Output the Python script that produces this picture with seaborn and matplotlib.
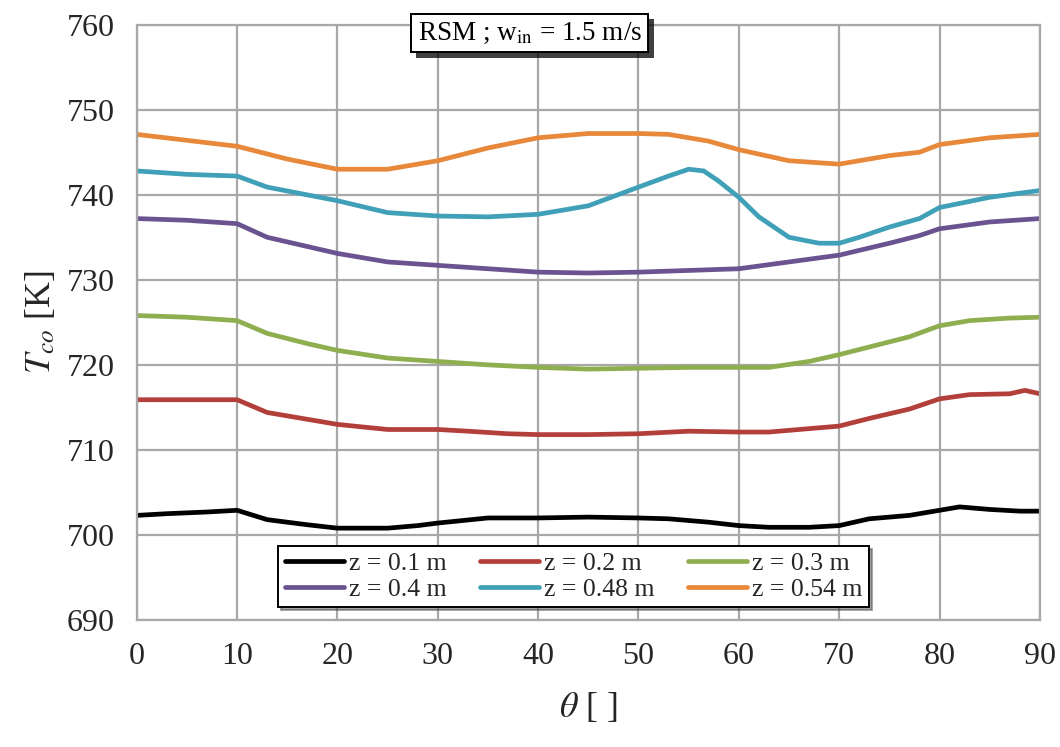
import matplotlib
matplotlib.use('Agg')
import matplotlib.pyplot as plt
import matplotlib.patheffects as pe
import pandas as pd
import seaborn as sns

# values
theta_01 = [0, 3, 7, 10, 13, 17, 20, 25, 28, 30, 35, 40, 45, 50, 53, 57, 60, 63, 67, 70, 73, 77, 80, 82, 85, 88, 90]
temp_01 = [702.3, 702.5, 702.7, 702.9, 701.8, 701.2, 700.8, 700.8, 701.1, 701.4, 702.0, 702.0, 702.1, 702.0,
           701.9, 701.5, 701.1, 700.9, 700.9, 701.1, 701.9, 702.3, 702.9, 703.3, 703.0, 702.8, 702.8]

theta_02 = [0, 5, 10, 13, 17, 20, 25, 30, 33, 37, 40, 45, 50, 55, 60, 63, 67, 70, 73, 77, 80, 83, 87, 88.5, 90]
temp_02 = [715.9, 715.9, 715.9, 714.4, 713.6, 713.0, 712.4, 712.4, 712.2, 711.9, 711.8, 711.8, 711.9, 712.2,
           712.1, 712.1, 712.5, 712.8, 713.7, 714.8, 716.0, 716.5, 716.6, 717.0, 716.6]

theta_03 = [0, 5, 10, 13, 17, 20, 25, 30, 35, 40, 45, 50, 55, 60, 63, 67, 70, 73, 77, 80, 83, 87, 90]
temp_03 = [725.8, 725.6, 725.2, 723.7, 722.5, 721.7, 720.8, 720.4, 720.0, 719.7, 719.5, 719.6, 719.7, 719.7,
           719.7, 720.4, 721.2, 722.1, 723.3, 724.6, 725.2, 725.5, 725.6]

theta_04 = [0, 5, 10, 13, 20, 25, 30, 35, 40, 45, 50, 55, 60, 65, 70, 75, 78, 80, 85, 90]
temp_04 = [737.2, 737.0, 736.6, 735.0, 733.1, 732.1, 731.7, 731.3, 730.9, 730.8, 730.9, 731.1, 731.3, 732.1,
           732.9, 734.3, 735.2, 736.0, 736.8, 737.2]

theta_048 = [0, 5, 10, 13, 20, 25, 30, 35, 40, 45, 50, 53, 55, 56.5, 58, 60, 62, 65, 68, 70, 72, 75, 78, 80, 85, 90]
temp_048 = [742.8, 742.4, 742.2, 740.9, 739.3, 737.9, 737.5, 737.4, 737.7, 738.7, 740.9, 742.2, 743.0, 742.8,
            741.6, 739.7, 737.4, 735.0, 734.3, 734.3, 735.0, 736.2, 737.2, 738.5, 739.7, 740.5]

theta_054 = [0, 10, 15, 20, 25, 30, 35, 40, 45, 50, 53, 57, 60, 65, 70, 75, 78, 80, 85, 90]
temp_054 = [747.1, 745.7, 744.2, 743.0, 743.0, 744.0, 745.5, 746.7, 747.2, 747.2, 747.1, 746.3, 745.3, 744.0,
            743.6, 744.6, 745.0, 745.9, 746.7, 747.1]

labels = ['z = 0.1 m', 'z = 0.2 m', 'z = 0.3 m', 'z = 0.4 m', 'z = 0.48 m', 'z = 0.54 m']
colors = ['#000000', '#b33f3b', '#8fae4f', '#6a5390', '#3fa0b8', '#e8883a']
x_ticks = [0, 10, 20, 30, 40, 50, 60, 70, 80, 90]
y_ticks = [690, 700, 710, 720, 730, 740, 750, 760]

series = [(theta_01, temp_01), (theta_02, temp_02), (theta_03, temp_03),
          (theta_04, temp_04), (theta_048, temp_048), (theta_054, temp_054)]
frames = []
for lab, (th, tv) in zip(labels, series):
    frames.append(pd.DataFrame({'theta': th, 'T': tv, 'z': lab}))
df = pd.concat(frames, ignore_index=True)

sns.set_style('white')
plt.rcParams['font.family'] = ['Liberation Serif', 'DejaVu Serif']
plt.rcParams['mathtext.fontset'] = 'stix'

fig = plt.figure(figsize=(10.6, 7.47), dpi=100)
ax = fig.add_axes([0.129, 0.170, 0.852, 0.797])

sns.lineplot(data=df, x='theta', y='T', hue='z', hue_order=labels, palette=colors,
             linewidth=3.4, sort=True, estimator=None, ax=ax, legend=True)

ax.set_xlim(0, 90)
ax.set_ylim(690, 760)
ax.set_xticks(x_ticks)
ax.set_yticks(y_ticks)
ax.grid(True, color='#a8a8a8', linewidth=1.6)
ax.set_axisbelow(True)
for s in ax.spines.values():
    s.set_color('#a8a8a8')
    s.set_linewidth(1.6)
ax.tick_params(axis='y', length=0, labelsize=23, pad=16)
ax.tick_params(axis='x', length=0, labelsize=23, pad=16)

ax.set_xlabel(r'$\theta$ [ ]', fontsize=26, labelpad=14)
ax.set_ylabel(r'$T_{co}$ [K]', fontsize=26, labelpad=6)

# legend, row-major order like the reference
handles, labs = ax.get_legend_handles_labels()
order = [0, 3, 1, 4, 2, 5]
leg = ax.legend([handles[i] for i in order], [labs[i] for i in order],
                ncol=3, loc='lower center', bbox_to_anchor=(0.484, 0.0),
                fontsize=18.5, frameon=True, fancybox=False, shadow=True,
                edgecolor='black', handlelength=2.3, handletextpad=0.2,
                columnspacing=1.3, borderpad=0.25, labelspacing=0.1)
leg.get_frame().set_linewidth(1.4)
for line in leg.get_lines():
    line.set_linewidth(3.4)

# boxed annotation at the top with a drop shadow
title = r'RSM ; w$_{\rm in}$ = 1.5 m/s'
t = ax.text(0.435, 0.986, title, transform=ax.transAxes, ha='center', va='center',
            fontsize=19.5, color='black',
            bbox=dict(boxstyle='square,pad=0.25', facecolor='white', edgecolor='black', linewidth=1.4),
            zorder=5)
t.get_bbox_patch().set_path_effects([pe.withSimplePatchShadow(offset=(4, -4), shadow_rgbFace='black', alpha=0.75),
                                     pe.Normal()])

fig.savefig('out.png', dpi=100)
